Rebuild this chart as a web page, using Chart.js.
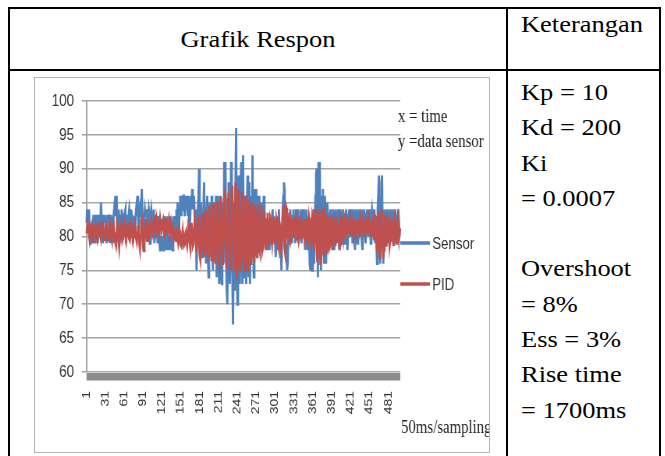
<!DOCTYPE html>
<html><head><meta charset="utf-8">
<script src="https://cdn.jsdelivr.net/npm/chart.js@4.4.1/dist/chart.umd.min.js"></script>
<style>
html,body{margin:0;padding:0;background:#fff;width:665px;height:456px;overflow:hidden;position:relative;}
.ln{position:absolute;background:#000;}
.txt{position:absolute;font-family:"Liberation Serif","Times New Roman",Times,serif;color:#000;font-size:23px;white-space:nowrap;transform:scaleX(1.15);transform-origin:0 0;}
#box{position:absolute;left:34px;top:77px;width:456px;height:376px;border:1.5px solid #b5b5b5;box-sizing:border-box;}
#wrap{position:absolute;left:36px;top:77px;width:581px;height:374px;transform:scaleX(0.78);transform-origin:0 0;}
</style></head>
<body>
<div class="ln" style="left:8px;top:7px;width:653px;height:2px"></div>
<div class="ln" style="left:8px;top:69px;width:653px;height:2px"></div>
<div class="ln" style="left:8px;top:7px;width:2px;height:449px"></div>
<div class="ln" style="left:506px;top:7px;width:2px;height:449px"></div>
<div class="ln" style="left:659px;top:7px;width:2px;height:449px"></div>
<div class="txt" style="left:10px;width:496px;text-align:center;top:25px;line-height:30px;transform-origin:50% 0">Grafik Respon</div>
<div class="txt" style="left:521px;top:10px;line-height:30px">Keterangan</div>
<div class="txt" style="left:521px;top:75px;line-height:35.3px">Kp = 10<br>Kd = 200<br>Ki<br>= 0.0007<br>&nbsp;<br>Overshoot<br>= 8%<br>Ess = 3%<br>Rise time<br>= 1700ms</div>
<div id="box"></div>
<div id="wrap"><canvas id="c"></canvas></div>
<script>
const labels = Array.from({length: 500}, (_, i) => String(i + 1));
const tickEvery = 30;
const yMin = 60, yMax = 100, yStep = 5;
const seriesNames = ['Sensor', 'PID'];
const notes = ['x = time', 'y =data sensor'];
const xTitle = '50ms/sampling';

const sensor = [
82,84,83,83,84,81,79,79,80,79,
81,83,83,80,79,83,83,83,79,82,
83,83,80,85,83,83,79,83,83,83,
82,83,79,83,83,83,83,79,83,83,
83,82,79,83,84,83,86,83,86,80,
83,84,83,79,83,83,84,83,80,83,
83,83,84,79,83,83,80,83,84,83,
80,84,83,83,79,83,83,80,83,84,
83,86,83,80,83,84,83,84,87,83,
79,78,83,84,83,83,84,80,83,84,
83,79,83,84,83,83,80,84,79,83,
83,80,83,79,80,83,79,78,80,79,
78,80,78,79,83,80,78,79,83,78,
80,78,79,83,78,79,80,78,83,80,
81,83,80,84,82,85,84,80,84,86,
85,83,86,84,86,86,83,84,86,85,
86,83,86,84,80,83,86,84,87,84,
85,86,83,80,84,75,80,84,86,90,
82,80,85,83,77,82,84,88,80,83,
76,84,86,78,74,83,85,79,77,86,
84,75,80,85,78,84,86,74,83,86,
77,73,84,86,74,73,82,85,76,91,
84,91,78,72,70,82,88,76,73,84,
91,78,74,67,79,85,72,88,96,76,
70,84,89,75,73,87,91,80,73,92,
78,74,86,80,73,83,89,76,74,88,
73,82,86,77,92,80,74,82,87,78,
87,79,84,86,78,86,80,78,85,82,
78,84,86,79,80,78,82,80,78,81,
80,78,82,79,80,83,84,80,83,82,
79,77,80,83,78,79,84,80,77,79,
75,80,84,86,88,87,80,78,79,75,
76,80,83,79,84,80,82,79,83,84,
80,83,79,84,80,82,84,79,83,80,
84,82,79,83,84,80,84,83,78,82,
84,79,78,83,80,76,75,80,79,75,
82,84,76,80,86,89,90,84,74,91,
85,91,80,75,86,82,87,79,76,86,
84,76,80,85,83,79,78,83,84,82,
79,80,84,83,78,80,84,82,79,83,
84,80,78,83,84,82,79,80,84,83,
80,79,83,84,82,78,80,83,84,80,
82,84,83,79,80,84,82,78,83,84,
80,79,83,84,82,80,83,84,79,78,
82,84,83,80,79,83,84,82,80,83,
84,82,79,83,84,83,80,84,83,79,
83,80,76,84,86,89,82,76,84,88,
89,80,76,82,84,83,79,80,84,83,
82,79,83,84,82,80,83,84,82,79,
83,84,82,79,81,83,84,82,80,80
];

const pid = [
80.5,81.3,81.9,81.0,80.2,79.5,80.4,81.5,81.8,80.6,
79.6,79.4,80.5,81.6,82.0,81.1,80.0,79.5,80.2,81.4,
82.1,81.2,80.1,79.6,80.5,81.7,81.9,80.8,79.7,79.5,
80.6,81.8,81.6,80.3,79.5,80.0,81.2,82.0,81.0,79.8,
79.4,80.5,81.7,81.9,80.6,79.5,79.0,78.6,80.2,81.8,
81.0,79.4,78.4,79.8,81.4,81.8,80.5,79.3,79.6,81.0,
81.9,81.2,80.0,79.3,80.2,81.6,82.0,80.8,79.6,79.4,
80.7,81.8,81.5,80.2,79.3,80.0,81.4,81.9,80.8,79.7,
79.2,80.5,81.6,80.8,79.0,78.2,80.0,82.3,82.6,80.4,
78.4,77.9,79.6,81.5,81.9,80.6,79.4,80.1,81.6,81.2,
80.0,80.6,81.8,82.3,81.4,80.4,80.9,82.2,82.5,81.2,
80.6,81.4,82.5,82.0,80.8,80.4,81.6,82.6,81.7,80.6,
81.0,82.3,82.6,81.3,80.5,81.2,82.4,82.2,80.9,80.6,
81.8,82.5,81.5,80.4,80.9,82.1,81.6,80.2,79.9,81.0,
80.8,79.7,79.4,80.6,81.0,79.8,79.0,79.6,80.9,80.0,
78.7,78.5,79.8,80.8,79.6,78.6,78.8,80.2,80.6,79.1,
78.6,80.0,81.8,81.4,79.2,78.4,80.5,82.0,80.6,78.5,
78.8,80.5,82.6,81.8,79.0,77.8,79.5,82.2,83.0,80.1,
77.2,76.6,79.0,82.5,83.4,81.0,78.0,77.0,79.5,83.2,
84.0,81.5,78.0,76.8,79.0,83.0,84.5,82.0,77.5,76.5,
79.5,84.2,85.0,81.5,77.0,76.0,79.0,84.5,85.2,80.5,
76.3,75.8,80.0,85.0,85.8,81.0,76.5,75.8,81.0,85.6,
86.2,82.0,76.5,75.2,79.0,85.5,86.5,82.5,76.0,75.0,
80.0,86.8,87.5,83.0,76.0,75.0,80.5,88.0,86.0,73.6,
75.5,82.0,87.0,86.0,78.0,74.8,77.0,84.0,86.5,82.0,
76.0,75.0,80.0,86.0,85.0,78.5,75.0,77.5,85.5,84.5,
78.0,76.0,79.5,85.0,84.0,78.5,76.5,80.0,84.6,83.0,
77.5,77.0,81.0,84.8,83.0,78.0,77.5,81.5,84.5,82.0,
78.0,78.5,82.0,83.8,81.5,78.2,79.0,82.5,83.5,80.0,
78.6,80.0,82.8,82.4,79.6,78.8,80.5,82.8,81.5,79.0,
79.0,80.5,82.6,82.0,79.5,78.8,80.5,82.0,81.5,78.5,
77.8,80.0,83.0,84.5,82.0,78.2,77.5,80.5,84.2,83.8,
80.0,79.2,81.5,83.5,82.0,79.5,80.0,82.5,81.5,79.8,
80.5,82.2,82.6,80.8,79.4,80.5,82.4,81.8,79.5,80.0,
82.0,82.5,80.6,79.6,81.2,82.6,81.8,79.7,80.4,82.6,
81.5,79.5,79.2,81.0,82.8,82.0,79.0,78.6,81.5,83.0,
82.4,79.0,78.0,80.5,83.8,83.5,79.0,76.2,77.0,82.8,
84.0,80.5,75.8,76.5,82.5,84.0,81.0,77.2,78.0,83.5,
83.2,79.0,77.5,79.5,82.8,82.0,78.2,78.5,81.5,83.0,
80.2,78.0,79.5,82.0,82.8,80.0,78.6,80.2,82.0,81.5,
79.6,79.2,81.0,82.5,81.8,79.5,80.2,82.2,81.8,79.8,
80.6,82.4,82.0,80.4,80.8,82.3,81.8,80.4,81.0,82.5,
81.8,80.3,80.8,82.4,82.0,80.2,81.0,82.5,81.6,80.6,
81.2,82.3,82.5,80.8,80.4,81.6,82.5,81.3,80.2,81.0,
82.4,82.0,80.6,80.3,81.2,82.5,82.2,80.7,81.0,82.6,
82.0,80.5,80.2,81.4,82.3,82.5,80.9,79.6,81.2,83.0,
82.8,79.5,78.0,80.5,83.6,82.5,77.5,76.6,80.0,84.0,
83.2,79.0,76.8,78.0,82.0,83.2,80.6,78.5,79.5,82.8,
82.6,80.5,78.6,79.4,81.5,82.8,81.2,79.8,78.8,81.0,
82.6,82.0,80.2,79.2,81.5,82.4,80.8,79.6,80.6,81.2
];

const floorPlugin = {
  id: 'floor',
  afterDatasetsDraw(chart) {
    const {ctx, chartArea: a, scales} = chart;
    const y0 = scales.y.getPixelForValue(yMin);
    ctx.save();
    ctx.fillStyle = '#8c8c8c';
    ctx.fillRect(a.left, y0 + 1, a.right - a.left, 7.5);
    ctx.restore();
  }
};

const textPlugin = {
  id: 'texts',
  afterDraw(chart) {
    const {ctx, chartArea: a} = chart;
    ctx.save();
    const legY = [166, 207];
    chart.data.datasets.forEach((ds, i) => {
      ctx.strokeStyle = ds.borderColor;
      ctx.lineWidth = 3.5;
      ctx.beginPath();
      ctx.moveTo(a.right, legY[i]);
      ctx.lineTo(a.right + 38, legY[i]);
      ctx.stroke();
      ctx.fillStyle = '#333';
      ctx.font = '17px "Liberation Sans", Arial, sans-serif';
      ctx.textBaseline = 'middle';
      ctx.textAlign = 'left';
      ctx.fillText(ds.label, a.right + 41, legY[i] + 1);
    });
    ctx.fillStyle = '#222';
    ctx.font = '19px "Liberation Serif", "Times New Roman", serif';
    ctx.textBaseline = 'middle';
    ctx.fillText(notes[0], a.right - 3, 40);
    ctx.fillText(notes[1], a.right - 3, 65);
    ctx.fillText(xTitle, a.right + 1, 351);
    ctx.restore();
  }
};

new Chart(document.getElementById('c'), {
  type: 'line',
  data: {
    labels: labels,
    datasets: [
      {label: seriesNames[0], data: sensor, borderColor: '#4f81bd', borderWidth: 2.8, pointRadius: 0, tension: 0, order: 2, fill: false},
      {label: seriesNames[1], data: pid, borderColor: '#c0504d', borderWidth: 2.8, pointRadius: 0, tension: 0, order: 1, fill: false}
    ]
  },
  options: {
    responsive: true,
    maintainAspectRatio: false,
    animation: false,
    layout: {padding: {left: 0, right: 114, top: 24, bottom: 0}},
    plugins: {legend: {display: false}, tooltip: {enabled: false}},
    scales: {
      x: {
        grid: {display: false, drawTicks: false},
        border: {display: false},
        ticks: {
          autoSkip: false, maxRotation: 90, minRotation: 90, padding: 19,
          color: '#333', font: {family: '"Liberation Sans", Arial, sans-serif', size: 14},
          callback: (v, i) => (i % tickEvery === 0 ? labels[i] : '')
        },
        afterFit: s => { s.height = 79; }
      },
      y: {
        min: yMin, max: yMax,
        ticks: {stepSize: yStep, padding: 10, color: '#333', font: {family: '"Liberation Sans", Arial, sans-serif', size: 17}},
        grid: {color: '#a6a6a6', lineWidth: 1.6, tickLength: 6},
        border: {color: '#a6a6a6', width: 2},
        afterFit: s => { s.width = 64.7; }
      }
    }
  },
  plugins: [floorPlugin, textPlugin]
});
</script>
</body></html>
